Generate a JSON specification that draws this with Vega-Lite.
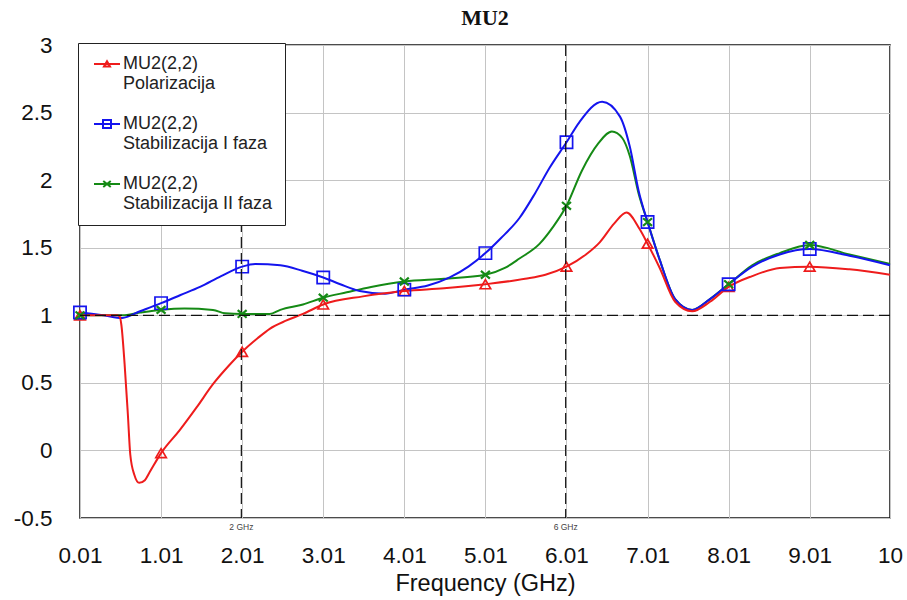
{
  "$schema": "https://vega.github.io/schema/vega-lite/v6.json",
  "width": 810,
  "height": 473,
  "autosize": {"type": "none"},
  "padding": {"left": 80, "top": 45, "right": 17, "bottom": 82},
  "background": "white",
  "title": {
    "text": "MU2",
    "font": "Liberation Serif",
    "fontSize": 22,
    "fontWeight": "bold",
    "color": "#111111",
    "anchor": "middle",
    "offset": 4
  },
  "config": {
    "view": {"stroke": "#111111", "strokeWidth": 1.5},
    "axis": {
      "labelFont": "Liberation Sans",
      "labelFontSize": 22.5,
      "labelColor": "#111111",
      "titleFont": "Liberation Sans",
      "titleFontSize": 23.5,
      "titleFontWeight": "normal",
      "titleColor": "#111111",
      "gridColor": "#c4c4c4",
      "gridWidth": 1,
      "domain": false,
      "ticks": false
    },
    "legend": {
      "title": null,
      "orient": "none",
      "legendX": -2,
      "legendY": -2,
      "fillColor": "white",
      "strokeColor": "#222222",
      "padding": 12,
      "labelFont": "Liberation Sans",
      "labelFontSize": 18,
      "labelColor": "#222222",
      "labelLimit": 300,
      "symbolSize": 100,
      "symbolStrokeWidth": 1.7,
      "symbolFillColor": "transparent",
      "symbolOffset": 8,
      "labelOffset": 7,
      "rowPadding": 22
    }
  },
  "datasets": {
    "curves": [
      {"s": "Stabilizacija II faza", "f": 0.01, "v": 1.0},
      {"s": "Stabilizacija II faza", "f": 0.3, "v": 1.0},
      {"s": "Stabilizacija II faza", "f": 0.53, "v": 1.0},
      {"s": "Stabilizacija II faza", "f": 0.75, "v": 1.02},
      {"s": "Stabilizacija II faza", "f": 1.01, "v": 1.04},
      {"s": "Stabilizacija II faza", "f": 1.3, "v": 1.05},
      {"s": "Stabilizacija II faza", "f": 1.65, "v": 1.04},
      {"s": "Stabilizacija II faza", "f": 1.8, "v": 1.015},
      {"s": "Stabilizacija II faza", "f": 2.01, "v": 1.01},
      {"s": "Stabilizacija II faza", "f": 2.35, "v": 1.01},
      {"s": "Stabilizacija II faza", "f": 2.48, "v": 1.04},
      {"s": "Stabilizacija II faza", "f": 2.76, "v": 1.08},
      {"s": "Stabilizacija II faza", "f": 3.01, "v": 1.13},
      {"s": "Stabilizacija II faza", "f": 3.3, "v": 1.17},
      {"s": "Stabilizacija II faza", "f": 3.6, "v": 1.21},
      {"s": "Stabilizacija II faza", "f": 4.01, "v": 1.25},
      {"s": "Stabilizacija II faza", "f": 4.5, "v": 1.27},
      {"s": "Stabilizacija II faza", "f": 5.01, "v": 1.3},
      {"s": "Stabilizacija II faza", "f": 5.25, "v": 1.35},
      {"s": "Stabilizacija II faza", "f": 5.43, "v": 1.42},
      {"s": "Stabilizacija II faza", "f": 5.68, "v": 1.53},
      {"s": "Stabilizacija II faza", "f": 5.84, "v": 1.65},
      {"s": "Stabilizacija II faza", "f": 6.01, "v": 1.81},
      {"s": "Stabilizacija II faza", "f": 6.2, "v": 2.07},
      {"s": "Stabilizacija II faza", "f": 6.4, "v": 2.27},
      {"s": "Stabilizacija II faza", "f": 6.57, "v": 2.36},
      {"s": "Stabilizacija II faza", "f": 6.7, "v": 2.31},
      {"s": "Stabilizacija II faza", "f": 6.79, "v": 2.18},
      {"s": "Stabilizacija II faza", "f": 6.9, "v": 1.9},
      {"s": "Stabilizacija II faza", "f": 7.01, "v": 1.69},
      {"s": "Stabilizacija II faza", "f": 7.16, "v": 1.41},
      {"s": "Stabilizacija II faza", "f": 7.35, "v": 1.12},
      {"s": "Stabilizacija II faza", "f": 7.56, "v": 1.04},
      {"s": "Stabilizacija II faza", "f": 7.78, "v": 1.12},
      {"s": "Stabilizacija II faza", "f": 8.01, "v": 1.23},
      {"s": "Stabilizacija II faza", "f": 8.3, "v": 1.37},
      {"s": "Stabilizacija II faza", "f": 8.64, "v": 1.46},
      {"s": "Stabilizacija II faza", "f": 9.01, "v": 1.52},
      {"s": "Stabilizacija II faza", "f": 9.5, "v": 1.45},
      {"s": "Stabilizacija II faza", "f": 10, "v": 1.38},

      {"s": "Stabilizacija I faza", "f": 0.01, "v": 1.02},
      {"s": "Stabilizacija I faza", "f": 0.3, "v": 1.0},
      {"s": "Stabilizacija I faza", "f": 0.53, "v": 0.98},
      {"s": "Stabilizacija I faza", "f": 0.75, "v": 1.03},
      {"s": "Stabilizacija I faza", "f": 1.01, "v": 1.09},
      {"s": "Stabilizacija I faza", "f": 1.25, "v": 1.15},
      {"s": "Stabilizacija I faza", "f": 1.49, "v": 1.21},
      {"s": "Stabilizacija I faza", "f": 1.75, "v": 1.29},
      {"s": "Stabilizacija I faza", "f": 2.01, "v": 1.36},
      {"s": "Stabilizacija I faza", "f": 2.17, "v": 1.38},
      {"s": "Stabilizacija I faza", "f": 2.48, "v": 1.37},
      {"s": "Stabilizacija I faza", "f": 2.75, "v": 1.33},
      {"s": "Stabilizacija I faza", "f": 3.01, "v": 1.28},
      {"s": "Stabilizacija I faza", "f": 3.22, "v": 1.23},
      {"s": "Stabilizacija I faza", "f": 3.46, "v": 1.18},
      {"s": "Stabilizacija I faza", "f": 3.77, "v": 1.16},
      {"s": "Stabilizacija I faza", "f": 4.01, "v": 1.19},
      {"s": "Stabilizacija I faza", "f": 4.3, "v": 1.22},
      {"s": "Stabilizacija I faza", "f": 4.57, "v": 1.28},
      {"s": "Stabilizacija I faza", "f": 4.8, "v": 1.36},
      {"s": "Stabilizacija I faza", "f": 5.01, "v": 1.46},
      {"s": "Stabilizacija I faza", "f": 5.2, "v": 1.57},
      {"s": "Stabilizacija I faza", "f": 5.43, "v": 1.72},
      {"s": "Stabilizacija I faza", "f": 5.62, "v": 1.9},
      {"s": "Stabilizacija I faza", "f": 5.8, "v": 2.09},
      {"s": "Stabilizacija I faza", "f": 6.01, "v": 2.28},
      {"s": "Stabilizacija I faza", "f": 6.17, "v": 2.43},
      {"s": "Stabilizacija I faza", "f": 6.45, "v": 2.58},
      {"s": "Stabilizacija I faza", "f": 6.67, "v": 2.47},
      {"s": "Stabilizacija I faza", "f": 6.79, "v": 2.25},
      {"s": "Stabilizacija I faza", "f": 6.9, "v": 1.92},
      {"s": "Stabilizacija I faza", "f": 7.01, "v": 1.69},
      {"s": "Stabilizacija I faza", "f": 7.16, "v": 1.41},
      {"s": "Stabilizacija I faza", "f": 7.35, "v": 1.12},
      {"s": "Stabilizacija I faza", "f": 7.56, "v": 1.04},
      {"s": "Stabilizacija I faza", "f": 7.78, "v": 1.12},
      {"s": "Stabilizacija I faza", "f": 8.01, "v": 1.23},
      {"s": "Stabilizacija I faza", "f": 8.3, "v": 1.36},
      {"s": "Stabilizacija I faza", "f": 8.64, "v": 1.45},
      {"s": "Stabilizacija I faza", "f": 9.01, "v": 1.49},
      {"s": "Stabilizacija I faza", "f": 9.5, "v": 1.44},
      {"s": "Stabilizacija I faza", "f": 10, "v": 1.37},

      {"s": "Polarizacija", "f": 0.01, "v": 1.0},
      {"s": "Polarizacija", "f": 0.3, "v": 1.0},
      {"s": "Polarizacija", "f": 0.47, "v": 1.0},
      {"s": "Polarizacija", "f": 0.5, "v": 0.99},
      {"s": "Polarizacija", "f": 0.52, "v": 0.93},
      {"s": "Polarizacija", "f": 0.56, "v": 0.64},
      {"s": "Polarizacija", "f": 0.6, "v": 0.27},
      {"s": "Polarizacija", "f": 0.63, "v": -0.03},
      {"s": "Polarizacija", "f": 0.68, "v": -0.18},
      {"s": "Polarizacija", "f": 0.74, "v": -0.24},
      {"s": "Polarizacija", "f": 0.81, "v": -0.22},
      {"s": "Polarizacija", "f": 0.87, "v": -0.16},
      {"s": "Polarizacija", "f": 1.01, "v": -0.02},
      {"s": "Polarizacija", "f": 1.24, "v": 0.15},
      {"s": "Polarizacija", "f": 1.45, "v": 0.32},
      {"s": "Polarizacija", "f": 1.65, "v": 0.49},
      {"s": "Polarizacija", "f": 1.85, "v": 0.63},
      {"s": "Polarizacija", "f": 2.01, "v": 0.73},
      {"s": "Polarizacija", "f": 2.2, "v": 0.83},
      {"s": "Polarizacija", "f": 2.35, "v": 0.9},
      {"s": "Polarizacija", "f": 2.55, "v": 0.96},
      {"s": "Polarizacija", "f": 2.76, "v": 1.01},
      {"s": "Polarizacija", "f": 3.01, "v": 1.08},
      {"s": "Polarizacija", "f": 3.5, "v": 1.14},
      {"s": "Polarizacija", "f": 4.01, "v": 1.18},
      {"s": "Polarizacija", "f": 4.5, "v": 1.2},
      {"s": "Polarizacija", "f": 5.01, "v": 1.23},
      {"s": "Polarizacija", "f": 5.5, "v": 1.27},
      {"s": "Polarizacija", "f": 5.75, "v": 1.3},
      {"s": "Polarizacija", "f": 6.01, "v": 1.36},
      {"s": "Polarizacija", "f": 6.25, "v": 1.45},
      {"s": "Polarizacija", "f": 6.42, "v": 1.54},
      {"s": "Polarizacija", "f": 6.6, "v": 1.68},
      {"s": "Polarizacija", "f": 6.75, "v": 1.76},
      {"s": "Polarizacija", "f": 6.91, "v": 1.64},
      {"s": "Polarizacija", "f": 7.01, "v": 1.53},
      {"s": "Polarizacija", "f": 7.16, "v": 1.35},
      {"s": "Polarizacija", "f": 7.35, "v": 1.1},
      {"s": "Polarizacija", "f": 7.56, "v": 1.03},
      {"s": "Polarizacija", "f": 7.78, "v": 1.1},
      {"s": "Polarizacija", "f": 8.01, "v": 1.21},
      {"s": "Polarizacija", "f": 8.3, "v": 1.29},
      {"s": "Polarizacija", "f": 8.64, "v": 1.35},
      {"s": "Polarizacija", "f": 9.01, "v": 1.36},
      {"s": "Polarizacija", "f": 9.5, "v": 1.34},
      {"s": "Polarizacija", "f": 10, "v": 1.3}
    ]
  },
  "layer": [
    {
      "data": {"name": "curves"},
      "mark": {"type": "line", "interpolate": "monotone"},
      "encoding": {
        "x": {
          "field": "f",
          "type": "quantitative",
          "title": "Frequency (GHz)",
          "scale": {"domain": [0.01, 10], "nice": false, "zero": false},
          "axis": {
            "values": [0.01, 1.01, 2.01, 3.01, 4.01, 5.01, 6.01, 7.01, 8.01, 9.01, 10],
            "labelExpr": "'' + datum.value",
            "labelOverlap": false,
            "labelFlush": false,
            "labelPadding": 26,
            "titlePadding": 5
          }
        },
        "y": {
          "field": "v",
          "type": "quantitative",
          "title": null,
          "scale": {"domain": [-0.5, 3], "nice": false, "zero": false},
          "axis": {
            "values": [-0.5, 0, 0.5, 1, 1.5, 2, 2.5, 3],
            "labelExpr": "'' + datum.value",
            "labelPadding": 28
          }
        },
        "strokeWidth": {
          "field": "s",
          "type": "nominal",
          "scale": {"domain": ["Polarizacija", "Stabilizacija I faza", "Stabilizacija II faza"], "range": [2, 2, 3.2]},
          "legend": null
        },
        "color": {
          "field": "s",
          "type": "nominal",
          "scale": {
            "domain": ["Polarizacija", "Stabilizacija I faza", "Stabilizacija II faza"],
            "range": ["#ee1c1c", "#1414ee", "#158a15"]
          },
          "legend": {"labelExpr": "['MU2(2,2)', datum.label + '\u00a0\u00a0\u00a0']"}
        }
      }
    },
    {
      "data": {"name": "curves"},
      "transform": [
        {"filter": "datum.s == 'Polarizacija'"},
        {"filter": "indexof([0.01, 1.01, 2.01, 3.01, 4.01, 5.01, 6.01, 7.01, 8.01, 9.01], datum.f) >= 0"}
      ],
      "mark": {"type": "point", "shape": "triangle-up", "size": 110, "filled": false, "strokeWidth": 1.7, "opacity": 1},
      "encoding": {
        "x": {"field": "f", "type": "quantitative"},
        "y": {"field": "v", "type": "quantitative"},
        "color": {"field": "s", "type": "nominal", "legend": {"labelExpr": "['MU2(2,2)', datum.label + '\u00a0\u00a0\u00a0']"}}
      }
    },
    {
      "data": {"name": "curves"},
      "transform": [
        {"filter": "datum.s == 'Stabilizacija I faza'"},
        {"filter": "indexof([0.01, 1.01, 2.01, 3.01, 4.01, 5.01, 6.01, 7.01, 8.01, 9.01], datum.f) >= 0"}
      ],
      "mark": {"type": "point", "shape": "square", "size": 150, "filled": false, "strokeWidth": 1.7, "opacity": 1},
      "encoding": {
        "x": {"field": "f", "type": "quantitative"},
        "y": {"field": "v", "type": "quantitative"},
        "color": {"field": "s", "type": "nominal", "legend": {"labelExpr": "['MU2(2,2)', datum.label + '\u00a0\u00a0\u00a0']"}}
      }
    },
    {
      "data": {"name": "curves"},
      "transform": [
        {"filter": "datum.s == 'Stabilizacija II faza'"},
        {"filter": "indexof([0.01, 1.01, 2.01, 3.01, 4.01, 5.01, 6.01, 7.01, 8.01, 9.01], datum.f) >= 0"}
      ],
      "mark": {"type": "point", "shape": "M-1,-0.85L1,0.85M-1,0.85L1,-0.85", "size": 80, "filled": false, "strokeWidth": 2.2, "opacity": 1},
      "encoding": {
        "x": {"field": "f", "type": "quantitative"},
        "y": {"field": "v", "type": "quantitative"},
        "color": {"field": "s", "type": "nominal", "legend": {"labelExpr": "['MU2(2,2)', datum.label + '\u00a0\u00a0\u00a0']"}}
      }
    },
    {
      "data": {"name": "curves"},
      "transform": [{"filter": "datum.f < 0"}],
      "mark": {"type": "point", "filled": false},
      "encoding": {
        "x": {"field": "f", "type": "quantitative"},
        "y": {"field": "v", "type": "quantitative"},
        "color": {"field": "s", "type": "nominal", "legend": {"labelExpr": "['MU2(2,2)', datum.label + '\u00a0\u00a0\u00a0']"}},
        "shape": {
          "field": "s",
          "type": "nominal",
          "scale": {
            "domain": ["Polarizacija", "Stabilizacija I faza", "Stabilizacija II faza"],
            "range": [
              "M-2.6,0L2.6,0M0,-0.55L0.6,0.5L-0.6,0.5Z",
              "M-2.6,0L2.6,0M-0.8,-0.8L0.8,-0.8L0.8,0.8L-0.8,0.8Z",
              "M-2.6,0L2.6,0M-0.75,-0.6L0.75,0.6M-0.75,0.6L0.75,-0.6"
            ]
          },
          "legend": {"labelExpr": "['MU2(2,2)', datum.label + '\u00a0\u00a0\u00a0']"}
        }
      }
    },
    {
      "data": {"values": [{"f": 2}, {"f": 6}]},
      "mark": {"type": "rule", "color": "#111111", "strokeWidth": 1.2, "strokeDash": [11, 5]},
      "encoding": {
        "x": {"field": "f", "type": "quantitative"}
      }
    },
    {
      "data": {"values": [{"v": 1}]},
      "mark": {"type": "rule", "color": "#111111", "strokeWidth": 1.2, "strokeDash": [11, 5]},
      "encoding": {
        "y": {"field": "v", "type": "quantitative"}
      }
    },
    {
      "data": {"values": [{"f": 2, "t": "2 GHz"}, {"f": 6, "t": "6 GHz"}]},
      "mark": {"type": "text", "font": "Liberation Sans", "fontSize": 8.5, "color": "#444444", "baseline": "top", "dy": 5},
      "encoding": {
        "x": {"field": "f", "type": "quantitative"},
        "y": {"datum": -0.5},
        "text": {"field": "t"}
      }
    }
  ]
}
